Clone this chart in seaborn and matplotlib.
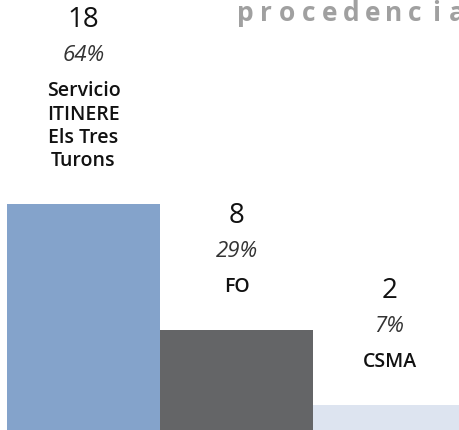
import matplotlib
matplotlib.use("Agg")
import matplotlib.pyplot as plt
import seaborn as sns

# datos
categorias = ["Servicio\nITINERE\nEls Tres\nTurons", "FO", "CSMA"]
valores = [18, 8, 2]
porcentajes = ["64%", "29%", "7%"]
colores = ["#84a3cb", "#646567", "#dde4f0"]
titulo = "procedencia"

sns.set_theme(style="white")
plt.rcParams["font.family"] = ["Open Sans", "DejaVu Sans"]

fig = plt.figure(figsize=(4.6, 4.3), dpi=100)
ax = fig.add_axes([7 / 460, 0, 453 / 460, 1])

sns.barplot(x=list(range(len(valores))), y=valores, hue=list(range(len(valores))),
            palette=colores, width=1.0, legend=False, saturation=1,
            linewidth=0, ax=ax)
ax.set_xlim(-0.5, 2.46)
ax.set_ylim(0, 34.3)
ax.axis("off")

for i, (v, cat, pct) in enumerate(zip(valores, categorias, porcentajes)):
    # nombre de la categoría encima de la barra
    lab = ax.annotate(cat, xy=(i, v), xytext=(0, 33), textcoords="offset pixels",
                      ha="center", va="bottom", fontsize=14, fontweight="semibold",
                      color="#111111", linespacing=1.22)
    # porcentaje encima del nombre
    p = ax.annotate(pct, xy=(0.5, 1), xycoords=lab, xytext=(0, 15),
                    textcoords="offset pixels", ha="center", va="bottom",
                    fontsize=16, fontstyle="italic", color="#333333")
    # recuento encima del porcentaje
    ax.annotate(str(v), xy=(0.5, 1), xycoords=p, xytext=(0, 11),
                textcoords="offset pixels", ha="center", va="bottom",
                fontsize=20, color="#111111")

# título con letras espaciadas (cortado a la derecha como en el original)
for k, ch in enumerate(titulo):
    fig.text((245 + k * 21.2) / 460, 1 - 21 / 430, ch, ha="center", va="baseline",
             fontsize=19, fontweight="bold", color="#a0a0a0")

plt.savefig("out.png", dpi=100)
